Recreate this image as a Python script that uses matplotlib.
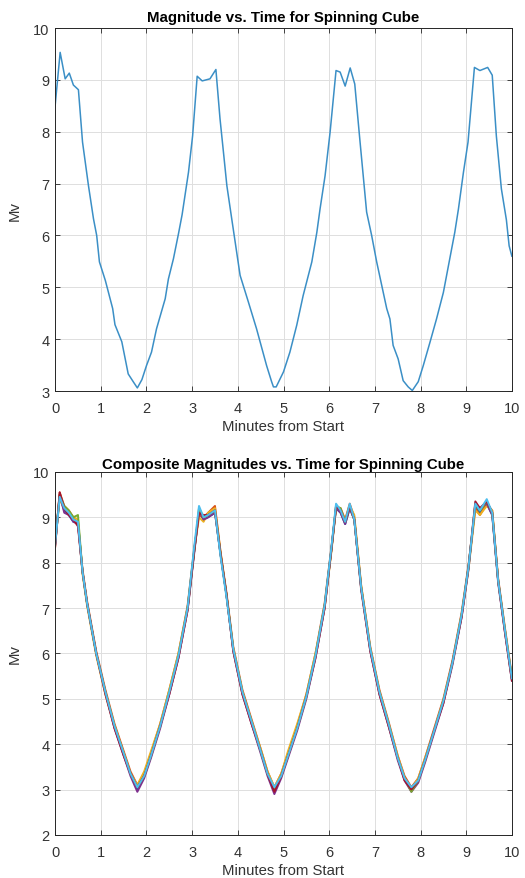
import matplotlib
matplotlib.use("Agg")
import matplotlib.pyplot as plt
import numpy as np

# single trace (top panel)
top_t = [0.0, 0.11, 0.22, 0.31, 0.40, 0.51, 0.60, 0.73, 0.84, 0.91, 0.97, 1.10, 1.26, 1.31,
         1.46, 1.60, 1.71, 1.80, 1.90, 2.00, 2.11, 2.22, 2.41, 2.48, 2.59, 2.70, 2.78, 2.92,
         3.01, 3.11, 3.22, 3.39, 3.52, 3.61, 3.70, 3.76, 3.87, 4.05, 4.23, 4.41, 4.63, 4.74,
         4.78, 4.84, 5.00, 5.14, 5.29, 5.43, 5.62, 5.73, 5.80, 5.91, 6.02, 6.15, 6.24, 6.35,
         6.46, 6.56, 6.67, 6.82, 6.93, 7.04, 7.15, 7.26, 7.33, 7.40, 7.51, 7.62, 7.73, 7.82,
         7.95, 8.06, 8.21, 8.35, 8.50, 8.64, 8.75, 8.83, 8.94, 9.04, 9.18, 9.30, 9.47, 9.57,
         9.66, 9.77, 9.88, 9.94, 10.0]
top_mv = [8.5, 9.53, 9.02, 9.13, 8.9, 8.81, 7.8, 6.96, 6.32, 6.0, 5.49, 5.13, 4.59, 4.28,
          3.95, 3.33, 3.18, 3.06, 3.22, 3.49, 3.75, 4.2, 4.78, 5.16, 5.55, 6.03, 6.4, 7.22,
          7.92, 9.07, 8.98, 9.02, 9.2, 8.25, 7.48, 6.96, 6.3, 5.23, 4.72, 4.2, 3.49, 3.18,
          3.08, 3.08, 3.37, 3.75, 4.27, 4.84, 5.49, 6.06, 6.51, 7.15, 7.99, 9.18, 9.15, 8.88,
          9.23, 8.92, 7.86, 6.45, 6.0, 5.49, 5.04, 4.59, 4.39, 3.88, 3.62, 3.2, 3.08, 3.01,
          3.18, 3.49, 3.95, 4.39, 4.9, 5.55, 6.06, 6.51, 7.22, 7.8, 9.24, 9.18, 9.24, 9.09,
          7.92, 6.9, 6.3, 5.8, 5.6]

# composite traces (bottom panel), shared time grid
comp_t = [0.0, 0.1, 0.2, 0.3, 0.4, 0.5, 0.6, 0.7, 0.9, 1.1, 1.3,
          1.5, 1.65, 1.8, 1.95, 2.1, 2.3, 2.5, 2.7, 2.9, 3.05,
          3.15, 3.25, 3.35, 3.5, 3.62, 3.75, 3.9, 4.1, 4.3, 4.5,
          4.65, 4.8, 4.95, 5.1, 5.3, 5.5, 5.7, 5.9, 6.05, 6.15,
          6.25, 6.35, 6.45, 6.55, 6.7, 6.9, 7.1, 7.3, 7.5, 7.65,
          7.8, 7.95, 8.1, 8.3, 8.5, 8.7, 8.9, 9.05, 9.2, 9.3,
          9.45, 9.57, 9.7, 9.85, 10.0]

trace_blue = [8.4, 9.45, 9.15, 9.05, 8.9, 8.9, 7.8, 7.1, 6.0, 5.15, 4.4,
              3.8, 3.35, 3.0, 3.3, 3.75, 4.4, 5.15, 5.95, 7.0, 8.3,
              9.1, 8.95, 9.0, 9.1, 8.2, 7.3, 6.1, 5.15, 4.5, 3.85,
              3.35, 3.0, 3.3, 3.75, 4.35, 5.05, 5.95, 7.05, 8.3, 9.2,
              9.1, 8.85, 9.2, 8.95, 7.45, 6.1, 5.15, 4.45, 3.7, 3.25,
              3.0, 3.2, 3.65, 4.3, 4.95, 5.8, 6.85, 7.9, 9.25, 9.1,
              9.3, 9.05, 7.6, 6.5, 5.45]
trace_orange = [8.35, 9.55, 9.25, 9.15, 9.0, 8.85, 7.85, 7.15, 6.05, 5.2, 4.45,
                3.85, 3.4, 3.1, 3.35, 3.8, 4.45, 5.2, 6.0, 7.05, 8.35,
                9.05, 9.0, 9.1, 9.25, 8.25, 7.35, 6.15, 5.2, 4.55, 3.9,
                3.4, 3.05, 3.35, 3.8, 4.4, 5.1, 6.0, 7.1, 8.35, 9.2,
                9.2, 8.95, 9.3, 9.0, 7.5, 6.15, 5.2, 4.5, 3.75, 3.3,
                3.05, 3.25, 3.7, 4.35, 5.0, 5.85, 6.9, 7.95, 9.2, 9.05,
                9.3, 9.15, 7.65, 6.55, 5.5]
trace_yellow = [8.45, 9.4, 9.2, 9.1, 9.0, 8.95, 7.75, 7.05, 5.95, 5.1, 4.4,
                3.8, 3.35, 3.1, 3.4, 3.85, 4.45, 5.2, 6.0, 7.0, 8.3,
                9.0, 8.9, 9.1, 9.2, 8.25, 7.3, 6.1, 5.15, 4.5, 3.9,
                3.4, 3.05, 3.35, 3.85, 4.45, 5.1, 6.0, 7.0, 8.25, 9.2,
                9.15, 8.95, 9.25, 9.05, 7.5, 6.1, 5.15, 4.45, 3.75, 3.25,
                3.0, 3.25, 3.7, 4.3, 4.95, 5.8, 6.85, 7.85, 9.15, 9.05,
                9.25, 9.15, 7.6, 6.5, 5.45]
trace_purple = [8.4, 9.5, 9.1, 9.05, 8.9, 8.85, 7.8, 7.1, 6.0, 5.15, 4.35,
                3.75, 3.3, 2.95, 3.25, 3.7, 4.35, 5.1, 5.9, 6.95, 8.25,
                9.15, 8.95, 9.0, 9.1, 8.2, 7.3, 6.05, 5.1, 4.45, 3.8,
                3.3, 2.9, 3.25, 3.7, 4.3, 5.0, 5.9, 7.0, 8.3, 9.2,
                9.1, 8.85, 9.2, 8.95, 7.45, 6.05, 5.1, 4.4, 3.65, 3.2,
                2.95, 3.15, 3.6, 4.25, 4.9, 5.75, 6.8, 7.85, 9.3, 9.2,
                9.3, 9.05, 7.55, 6.45, 5.4]
trace_green = [8.45, 9.5, 9.25, 9.15, 9.0, 9.05, 7.8, 7.1, 6.0, 5.15, 4.4,
               3.8, 3.35, 3.05, 3.3, 3.75, 4.4, 5.15, 5.95, 7.0, 8.3,
               9.2, 9.0, 9.05, 9.15, 8.2, 7.3, 6.1, 5.15, 4.5, 3.85,
               3.35, 3.0, 3.3, 3.75, 4.35, 5.05, 5.95, 7.05, 8.3, 9.25,
               9.2, 8.9, 9.25, 8.95, 7.45, 6.1, 5.15, 4.45, 3.7, 3.25,
               2.95, 3.2, 3.65, 4.3, 4.95, 5.8, 6.85, 7.9, 9.3, 9.15,
               9.35, 9.1, 7.6, 6.5, 5.45]
trace_red = [8.35, 9.55, 9.2, 9.05, 8.95, 8.8, 7.8, 7.1, 6.0, 5.1, 4.35,
             3.75, 3.35, 3.05, 3.3, 3.75, 4.4, 5.1, 5.9, 6.95, 8.3,
             9.1, 9.05, 9.05, 9.15, 8.2, 7.3, 6.05, 5.1, 4.45, 3.85,
             3.35, 2.95, 3.3, 3.75, 4.35, 5.05, 5.9, 7.0, 8.3, 9.25,
             9.15, 8.9, 9.25, 8.95, 7.4, 6.05, 5.1, 4.4, 3.7, 3.2,
             3.0, 3.2, 3.65, 4.3, 4.9, 5.8, 6.8, 7.9, 9.35, 9.2,
             9.35, 9.1, 7.6, 6.45, 5.4]
trace_cyan = [8.4, 9.45, 9.2, 9.1, 8.95, 8.9, 7.8, 7.1, 6.0, 5.15, 4.4,
              3.8, 3.35, 3.05, 3.3, 3.75, 4.4, 5.15, 5.95, 7.0, 8.4,
              9.25, 9.0, 9.05, 9.15, 8.15, 7.25, 6.1, 5.15, 4.5, 3.85,
              3.35, 3.05, 3.3, 3.75, 4.35, 5.05, 5.95, 7.05, 8.35, 9.3,
              9.15, 8.9, 9.3, 8.95, 7.45, 6.1, 5.15, 4.45, 3.7, 3.25,
              3.05, 3.2, 3.65, 4.3, 4.95, 5.8, 6.85, 7.9, 9.3, 9.15,
              9.4, 9.1, 7.6, 6.5, 5.45]

traces = [trace_blue, trace_orange, trace_yellow, trace_purple,
          trace_green, trace_red, trace_cyan]
trace_colors = ["#0072BD", "#D95319", "#EDB120", "#7E2F8E",
                "#77AC30", "#A2142F", "#4DBEEE"]

x_ticks = list(range(0, 11))

plt.rcParams["font.family"] = ["Liberation Sans", "DejaVu Sans"]
plt.rcParams["font.size"] = 10

fig = plt.figure(figsize=(5.25, 8.79), dpi=100)
ax_top = fig.add_axes([0.105, 0.554, 0.870, 0.413])
ax_bot = fig.add_axes([0.105, 0.049, 0.870, 0.413])


def style_axes(ax, ylim, title, title_pad):
    ax.set_xlim(0, 10)
    ax.set_ylim(*ylim)
    ax.set_xticks(x_ticks)
    ax.set_yticks(range(ylim[0], ylim[1] + 1))
    ax.grid(True, color="#dedede", linewidth=0.7)
    ax.set_axisbelow(True)
    for sp in ax.spines.values():
        sp.set_color("#262626")
        sp.set_linewidth(0.7)
    ax.tick_params(direction="in", top=True, right=True, length=3.5,
                   width=0.6, color="#262626", labelcolor="#333333",
                   labelsize=10.5)
    ax.tick_params(axis="x", pad=7)
    ax.tick_params(axis="y", pad=4)
    ax.set_title(title, fontsize=10.8, fontweight="bold", pad=title_pad)
    ax.set_xlabel("Minutes from Start", fontsize=10.7, color="#333333", labelpad=3)
    ax.set_ylabel("Mv", fontsize=10.7, color="#333333", labelpad=8)


ax_top.plot(top_t, top_mv, color="#3b8fc6", linewidth=1.1)
style_axes(ax_top, (3, 10), "Magnitude vs. Time for Spinning Cube", 5)

for tr, col in zip(traces, trace_colors):
    ax_bot.plot(comp_t, tr, color=col, linewidth=1.4)
style_axes(ax_bot, (2, 10), "Composite Magnitudes vs. Time for Spinning Cube", 3)

fig.savefig("out.png", dpi=100)
